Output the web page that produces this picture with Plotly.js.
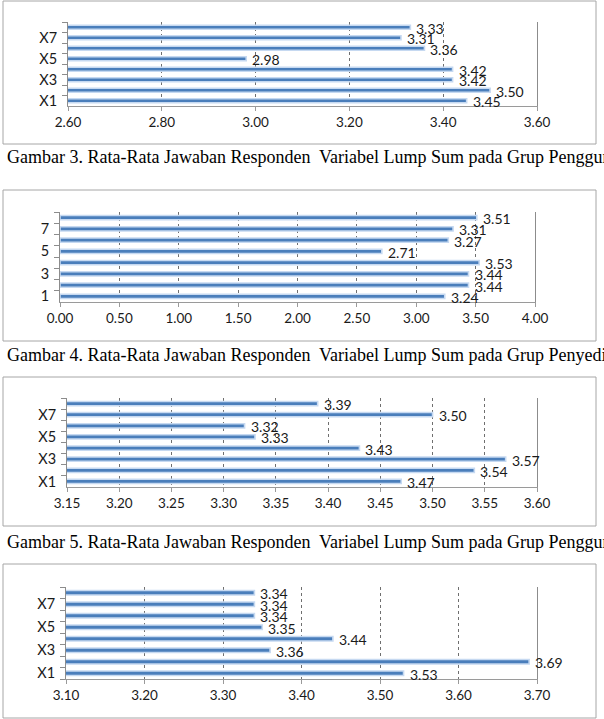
<!DOCTYPE html>
<html>
<head>
<meta charset="utf-8">
<script src="https://cdn.plot.ly/plotly-3.0.1.min.js"></script>
<style>html,body{margin:0;padding:0;background:#fff;}#chart{width:604px;height:719px;}</style>
</head>
<body>
<div id="chart"></div>
<script>
// ---- data ----
const catsX = ['X1','X2','X3','X4','X5','X6','X7','X8'];
const catsNum = ['1','2','3','4','5','6','7','8'];
const labelsX = ['X1','','X3','','X5','','X7',''];
const labelsNum = ['1','','3','','5','','7',''];

const vals3 = [3.45, 3.50, 3.42, 3.42, 2.98, 3.36, 3.31, 3.33];
const vals4 = [3.24, 3.44, 3.44, 3.53, 2.71, 3.27, 3.31, 3.51];
const vals5 = [3.47, 3.54, 3.57, 3.43, 3.33, 3.32, 3.50, 3.39];
const vals6 = [3.53, 3.69, 3.36, 3.44, 3.35, 3.34, 3.34, 3.34];

const captions = [
  'Gambar 3. Rata-Rata Jawaban Responden  Variabel Lump Sum pada Grup Pengguna',
  'Gambar 4. Rata-Rata Jawaban Responden  Variabel Lump Sum pada Grup Penyedia',
  'Gambar 5. Rata-Rata Jawaban Responden  Variabel Lump Sum pada Grup Pengguna'
];

// ---- layout helpers ----
const W = 604, H = 719;
const px = v => v / W;
const py = v => 1 - v / H;
const sans = 'Lato, "Open Sans", sans-serif';
const serif = '"Liberation Serif", "Times New Roman", serif';

const panels = [
  {vals: vals3, cats: catsX, labels: labelsX, range: [2.6, 3.6], dtick: 0.2, xd: [68, 537], yd: [22, 106], box: [3, 1, 596, 144]},
  {vals: vals4, cats: catsNum, labels: labelsNum, range: [0, 4], dtick: 0.5, xd: [60, 535], yd: [212, 302], box: [3, 190, 596, 341]},
  {vals: vals5, cats: catsX, labels: labelsX, range: [3.15, 3.6], dtick: 0.05, xd: [67, 537], yd: [398, 487], box: [3, 377, 596, 526]},
  {vals: vals6, cats: catsX, labels: labelsX, range: [3.1, 3.7], dtick: 0.1, xd: [66, 537], yd: [587, 679], box: [3, 564, 596, 718]}
];
const captionY = [157, 355, 542];

const data = [];
const layout = {
  width: W, height: H,
  margin: {l: 0, r: 0, t: 0, b: 0},
  paper_bgcolor: '#ffffff', plot_bgcolor: 'rgba(0,0,0,0)',
  showlegend: false,
  shapes: [], annotations: []
};

panels.forEach((p, i) => {
  const n = i + 1;
  const xa = 'x' + (n === 1 ? '' : n);
  const ya = 'y' + (n === 1 ? '' : n);
  data.push({
    type: 'bar', orientation: 'h', x: p.vals, y: p.cats,
    xaxis: xa, yaxis: ya, width: 0.38,
    marker: {color: '#4a7ebb', line: {color: '#c6d9f1', width: 1.6}},
    hoverinfo: 'skip'
  });
  // value labels: y given as the category's index on the category axis
  p.vals.forEach((v, k) => {
    layout.annotations.push({
      xref: xa, yref: ya, x: v, y: p.cats.indexOf(p.cats[k]),
      xanchor: 'left', yanchor: 'middle', xshift: 4, yshift: -1,
      showarrow: false, text: v.toFixed(2),
      font: {family: sans, size: 14, color: '#1a1a1a'}
    });
  });
  const xk = 'xaxis' + (n === 1 ? '' : n);
  const yk = 'yaxis' + (n === 1 ? '' : n);
  layout[xk] = {
    domain: [px(p.xd[0]), px(p.xd[1])], anchor: ya,
    range: p.range, dtick: p.dtick, tick0: p.range[0], tickformat: '.2f',
    showgrid: true, gridcolor: '#6f6f6f', gridwidth: 1, griddash: '3px,3px',
    zeroline: false, showline: true, linecolor: '#9a9a9a', linewidth: 1,
    ticks: 'outside', ticklen: 4, tickcolor: '#9a9a9a',
    tickfont: {family: sans, size: 13.5, color: '#1a1a1a'},
    fixedrange: true
  };
  layout[yk] = {
    domain: [py(p.yd[1]), py(p.yd[0])], anchor: xa,
    type: 'category', categoryorder: 'array', categoryarray: p.cats,
    range: [-0.5, 7.5],
    tickvals: p.cats, ticktext: p.labels, tickson: 'boundaries',
    ticks: 'outside', ticklen: 5, tickcolor: '#8c8c8c',
    ticklabelstandoff: 7,
    showgrid: false, showline: true, mirror: true, linecolor: '#8c8c8c', linewidth: 1,
    zeroline: false,
    tickfont: {family: sans, size: 14.5, color: '#1a1a1a'},
    fixedrange: true
  };
  layout.shapes.push({
    type: 'rect', xref: 'paper', yref: 'paper',
    x0: px(p.box[0]), x1: px(p.box[2]), y0: py(p.box[3]), y1: py(p.box[1]),
    line: {color: '#a6a6a6', width: 1}, fillcolor: 'rgba(0,0,0,0)', layer: 'below'
  });
});

captions.forEach((c, i) => {
  layout.annotations.push({
    xref: 'paper', yref: 'paper', x: px(5), y: py(captionY[i]),
    xanchor: 'left', yanchor: 'middle', showarrow: false,
    text: c, font: {family: serif, size: 18, color: '#000'}
  });
});

Plotly.newPlot('chart', data, layout, {displayModeBar: false, staticPlot: true});
</script>
</body>
</html>
